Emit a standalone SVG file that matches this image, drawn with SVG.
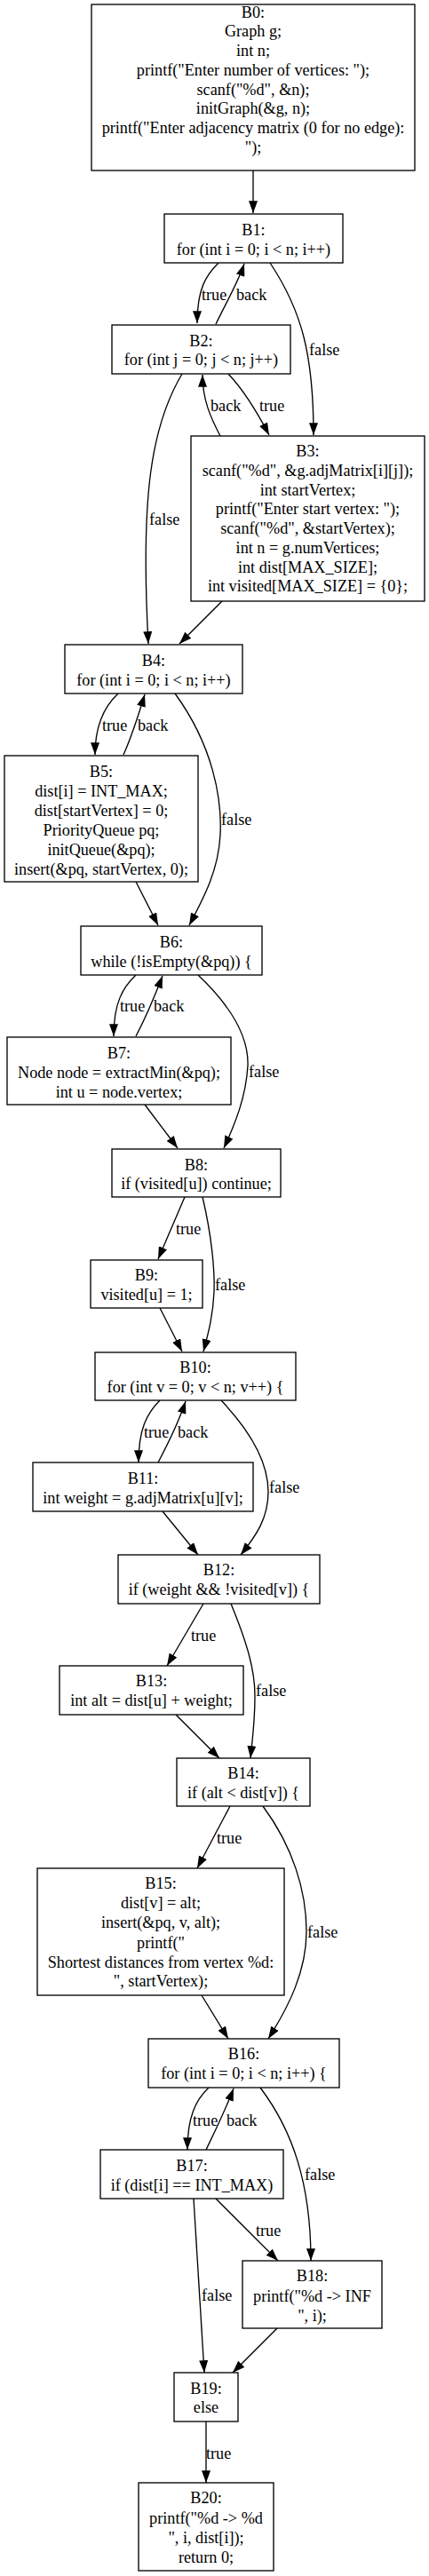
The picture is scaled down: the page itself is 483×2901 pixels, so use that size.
<svg xmlns="http://www.w3.org/2000/svg" width="483" height="2901" viewBox="0 0 483 2901">
<style>
.bg{fill:#fff}
.n rect{fill:#fff;stroke:#000;stroke-width:1.33}
.n text{font-family:"Liberation Serif",serif;font-size:18.2px;text-anchor:middle;fill:#000}
.e path{fill:none;stroke:#000;stroke-width:1.33}
.lbl{font-family:"Liberation Serif",serif;font-size:18.2px;fill:#000}
</style>
<defs>
<marker id="ah" markerUnits="userSpaceOnUse" markerWidth="14" markerHeight="10" viewBox="0 0 13 9.4" refX="13" refY="4.7" orient="auto">
<path d="M0,0 L13,4.7 L0,9.4 z" fill="#000"/>
</marker>
</defs>
<rect class="bg" x="0" y="0" width="483" height="2901"/>

<g id="edges" class="e">
<path marker-end="url(#ah)" d="M285,192 L285,240"/>
<path marker-end="url(#ah)" d="M246,296 C232,310 222,325 222,364"/>
<path marker-end="url(#ah)" d="M243,365 C255,340 268,318 275,297"/>
<path marker-end="url(#ah)" d="M304,296 C340,350 353,400 353,490"/>
<path marker-end="url(#ah)" d="M257,421 C275,440 290,465 303,490"/>
<path marker-end="url(#ah)" d="M248,491 C237,470 228,450 228,422"/>
<path marker-end="url(#ah)" d="M205,421 C170,480 158,560 167,725"/>
<path marker-end="url(#ah)" d="M250,677 L202,725"/>
<path marker-end="url(#ah)" d="M133,781 C118,795 107,815 107,850"/>
<path marker-end="url(#ah)" d="M139,850 C148,830 156,805 163,782"/>
<path marker-end="url(#ah)" d="M197,781 C240,840 250,900 248,940 C246,980 230,1010 213,1042"/>
<path marker-end="url(#ah)" d="M153,993 L178,1042"/>
<path marker-end="url(#ah)" d="M153,1098 C138,1112 128,1130 128,1167"/>
<path marker-end="url(#ah)" d="M153,1167 C163,1148 173,1125 183,1099"/>
<path marker-end="url(#ah)" d="M223,1098 C262,1135 280,1170 279,1200 C277,1235 265,1265 252,1293"/>
<path marker-end="url(#ah)" d="M163,1244 L200,1293"/>
<path marker-end="url(#ah)" d="M208,1348 L178,1418"/>
<path marker-end="url(#ah)" d="M228,1348 C238,1390 242,1430 241,1455 C240,1480 235,1500 229,1522"/>
<path marker-end="url(#ah)" d="M180,1473 L205,1522"/>
<path marker-end="url(#ah)" d="M180,1577 C165,1592 156,1610 156,1647"/>
<path marker-end="url(#ah)" d="M178,1647 C188,1628 200,1605 209,1578"/>
<path marker-end="url(#ah)" d="M249,1577 C285,1615 302,1650 302,1680 C302,1710 288,1730 271,1751"/>
<path marker-end="url(#ah)" d="M183,1702 L223,1751"/>
<path marker-end="url(#ah)" d="M229,1806 L188,1876"/>
<path marker-end="url(#ah)" d="M260,1806 C278,1850 287,1880 287,1910 C287,1940 284,1960 282,1980"/>
<path marker-end="url(#ah)" d="M198,1931 L247,1980"/>
<path marker-end="url(#ah)" d="M259,2034 L222,2104"/>
<path marker-end="url(#ah)" d="M296,2034 C330,2080 345,2130 345,2175 C345,2220 325,2260 302,2296"/>
<path marker-end="url(#ah)" d="M227,2247 L257,2296"/>
<path marker-end="url(#ah)" d="M235,2351 C220,2365 211,2385 211,2421"/>
<path marker-end="url(#ah)" d="M232,2421 C242,2400 253,2378 263,2352"/>
<path marker-end="url(#ah)" d="M293,2351 C330,2400 350,2460 350,2546"/>
<path marker-end="url(#ah)" d="M243,2476 L313,2546"/>
<path marker-end="url(#ah)" d="M218,2476 L230,2672"/>
<path marker-end="url(#ah)" d="M312,2622 L262,2672"/>
<path marker-end="url(#ah)" d="M232,2727 L232,2796"/>
</g>

<g id="labels">
<text class="lbl" x="227" y="338">true</text>
<text class="lbl" x="266" y="338">back</text>
<text class="lbl" x="348" y="400">false</text>
<text class="lbl" x="292" y="463">true</text>
<text class="lbl" x="237" y="463">back</text>
<text class="lbl" x="168" y="591">false</text>
<text class="lbl" x="115" y="823">true</text>
<text class="lbl" x="155" y="823">back</text>
<text class="lbl" x="249" y="929">false</text>
<text class="lbl" x="135" y="1139">true</text>
<text class="lbl" x="173" y="1139">back</text>
<text class="lbl" x="280" y="1213">false</text>
<text class="lbl" x="198" y="1390">true</text>
<text class="lbl" x="242" y="1453">false</text>
<text class="lbl" x="162" y="1619">true</text>
<text class="lbl" x="200" y="1619">back</text>
<text class="lbl" x="303" y="1681">false</text>
<text class="lbl" x="215" y="1848">true</text>
<text class="lbl" x="288" y="1910">false</text>
<text class="lbl" x="244" y="2076">true</text>
<text class="lbl" x="346" y="2182">false</text>
<text class="lbl" x="217" y="2394">true</text>
<text class="lbl" x="255" y="2394">back</text>
<text class="lbl" x="343" y="2455">false</text>
<text class="lbl" x="288" y="2518">true</text>
<text class="lbl" x="227" y="2591">false</text>
<text class="lbl" x="232" y="2769">true</text>
</g>

<g id="B0" class="n"><rect x="103" y="5" width="364" height="187"/>
<text x="285" y="19.5">B0:</text><text x="285" y="41.25">Graph g;</text><text x="285" y="63">int n;</text><text x="285" y="84.75">printf("Enter number of vertices: ");</text><text x="285" y="106.5">scanf("%d", &amp;n);</text><text x="285" y="128.25">initGraph(&amp;g, n);</text><text x="285" y="150">printf("Enter adjacency matrix (0 for no edge):</text><text x="285" y="171.75">");</text></g>
<g id="B1" class="n"><rect x="185" y="241" width="201" height="55"/>
<text x="285.5" y="265">B1:</text><text x="285.5" y="287">for (int i = 0; i &lt; n; i++)</text></g>
<g id="B2" class="n"><rect x="126" y="366" width="201" height="55"/>
<text x="226.5" y="390">B2:</text><text x="226.5" y="411">for (int j = 0; j &lt; n; j++)</text></g>
<g id="B3" class="n"><rect x="215" y="491" width="263" height="186"/>
<text x="346.5" y="514">B3:</text><text x="346.5" y="535.75">scanf("%d", &amp;g.adjMatrix[i][j]);</text><text x="346.5" y="557.5">int startVertex;</text><text x="346.5" y="579.25">printf("Enter start vertex: ");</text><text x="346.5" y="601">scanf("%d", &amp;startVertex);</text><text x="346.5" y="622.75">int n = g.numVertices;</text><text x="346.5" y="644.5">int dist[MAX_SIZE];</text><text x="346.5" y="666.25">int visited[MAX_SIZE] = {0};</text></g>
<g id="B4" class="n"><rect x="73" y="726" width="200" height="55"/>
<text x="173" y="750">B4:</text><text x="173" y="772">for (int i = 0; i &lt; n; i++)</text></g>
<g id="B5" class="n"><rect x="5" y="851" width="218" height="142"/>
<text x="114" y="875">B5:</text><text x="114" y="897">dist[i] = INT_MAX;</text><text x="114" y="919">dist[startVertex] = 0;</text><text x="114" y="941">PriorityQueue pq;</text><text x="114" y="963">initQueue(&amp;pq);</text><text x="114" y="985">insert(&amp;pq, startVertex, 0);</text></g>
<g id="B6" class="n"><rect x="91" y="1043" width="204" height="55"/>
<text x="193" y="1067">B6:</text><text x="193" y="1089">while (!isEmpty(&amp;pq)) {</text></g>
<g id="B7" class="n"><rect x="8" y="1168" width="252" height="76"/>
<text x="134" y="1192">B7:</text><text x="134" y="1213.75">Node node = extractMin(&amp;pq);</text><text x="134" y="1235.5">int u = node.vertex;</text></g>
<g id="B8" class="n"><rect x="126" y="1294" width="190" height="54"/>
<text x="221" y="1318">B8:</text><text x="221" y="1339">if (visited[u]) continue;</text></g>
<g id="B9" class="n"><rect x="102" y="1419" width="126" height="54"/>
<text x="165" y="1442">B9:</text><text x="165" y="1463.75">visited[u] = 1;</text></g>
<g id="B10" class="n"><rect x="107" y="1523" width="226" height="54"/>
<text x="220" y="1546">B10:</text><text x="220" y="1568">for (int v = 0; v &lt; n; v++) {</text></g>
<g id="B11" class="n"><rect x="37" y="1647" width="248" height="55"/>
<text x="161" y="1671">B11:</text><text x="161" y="1693">int weight = g.adjMatrix[u][v];</text></g>
<g id="B12" class="n"><rect x="133" y="1751" width="227" height="55"/>
<text x="246.5" y="1774">B12:</text><text x="246.5" y="1796">if (weight &amp;&amp; !visited[v]) {</text></g>
<g id="B13" class="n"><rect x="67" y="1876" width="207" height="55"/>
<text x="170.5" y="1899">B13:</text><text x="170.5" y="1921">int alt = dist[u] + weight;</text></g>
<g id="B14" class="n"><rect x="199" y="1980" width="150" height="54"/>
<text x="274" y="2003">B14:</text><text x="274" y="2025">if (alt &lt; dist[v]) {</text></g>
<g id="B15" class="n"><rect x="42" y="2104" width="278" height="143"/>
<text x="181" y="2127">B15:</text><text x="181" y="2149">dist[v] = alt;</text><text x="181" y="2171">insert(&amp;pq, v, alt);</text><text x="181" y="2194">printf("</text><text x="181" y="2216">Shortest distances from vertex %d:</text><text x="181" y="2237">", startVertex);</text></g>
<g id="B16" class="n"><rect x="167" y="2296" width="215" height="55"/>
<text x="274.5" y="2319">B16:</text><text x="274.5" y="2341">for (int i = 0; i &lt; n; i++) {</text></g>
<g id="B17" class="n"><rect x="113" y="2421" width="206" height="55"/>
<text x="216" y="2445">B17:</text><text x="216" y="2466.75">if (dist[i] == INT_MAX)</text></g>
<g id="B18" class="n"><rect x="273" y="2546" width="157" height="76"/>
<text x="351.5" y="2569">B18:</text><text x="351.5" y="2592">printf("%d -&gt; INF</text><text x="351.5" y="2614">", i);</text></g>
<g id="B19" class="n"><rect x="196" y="2672" width="72" height="55"/>
<text x="232" y="2696">B19:</text><text x="232" y="2717">else</text></g>
<g id="B20" class="n"><rect x="156" y="2796" width="152" height="99"/>
<text x="232" y="2819">B20:</text><text x="232" y="2842">printf("%d -&gt; %d</text><text x="232" y="2864">", i, dist[i]);</text><text x="232" y="2886">return 0;</text></g>
</svg>
